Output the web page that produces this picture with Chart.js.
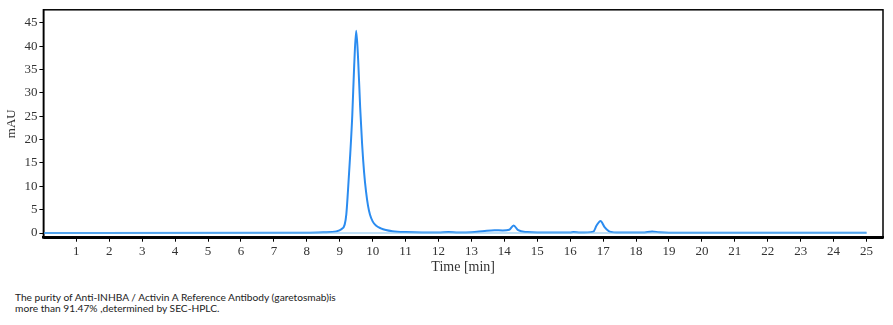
<!DOCTYPE html>
<html>
<head>
<meta charset="utf-8">
<script src="https://cdn.jsdelivr.net/npm/chart.js@4/dist/chart.umd.min.js"></script>
<style>
  html, body { margin: 0; padding: 0; background: #fff; }
  #wrap { position: relative; width: 893px; height: 280px; }
  #caption {
    position: absolute; left: 15px; top: 292px;
    font-family: Lato, sans-serif; font-size: 10.2px; line-height: 10.5px; color: #222;
  }
</style>
</head>
<body>
<div id="wrap"><canvas id="chart"></canvas></div>
<div id="caption">The purity of Anti-INHBA / Activin A Reference Antibody (garetosmab)is<br>more than 91.47% ,determined by SEC-HPLC.</div>
<script>
// chromatogram (time in min, absorbance in mAU)
const times = [0, 8.0, 8.5, 8.9, 9.05, 9.15, 9.2, 9.25, 9.32, 9.38, 9.44, 9.5, 9.56, 9.62, 9.68, 9.74, 9.8, 9.86, 9.92, 10.0, 10.1, 10.25, 10.4, 10.6, 11.0, 11.5, 12.0, 12.3, 12.6, 13.0, 13.4, 13.7, 13.95, 14.15, 14.28, 14.42, 14.7, 15.0, 16.0, 16.1, 16.3, 16.7, 16.8, 16.92, 17.05, 17.2, 17.5, 18.2, 18.49, 18.7, 19.0, 25.0];
const mau   = [0, 0.05, 0.15, 0.35, 0.8, 1.8, 4, 9, 17, 25, 36, 43.3, 37, 27, 19, 13, 8.8, 5.8, 3.9, 2.5, 1.6, 1.0, 0.65, 0.4, 0.2, 0.1, 0.1, 0.2, 0.1, 0.15, 0.45, 0.6, 0.55, 0.7, 1.6, 0.6, 0.2, 0.1, 0.1, 0.2, 0.1, 0.3, 1.6, 2.6, 1.2, 0.3, 0.1, 0.1, 0.35, 0.15, 0.05, 0.05];

// zero baseline
const baseTimes = [0, 25];
const baseValues = [0, 0];

const xTicks = [1, 2, 3, 4, 5, 6, 7, 8, 9, 10, 11, 12, 13, 14, 15, 16, 17, 18, 19, 20, 21, 22, 23, 24, 25];
const yTicks = [0, 5, 10, 15, 20, 25, 30, 35, 40, 45];

// box around the plot area
const frame = {
    id: 'frame',
    afterDraw(chart) {
        const { ctx, chartArea: a } = chart;
        ctx.save();
        ctx.strokeStyle = '#000';
        ctx.lineWidth = 1.5;
        ctx.strokeRect(a.left, a.top, a.right - a.left, a.bottom - a.top);
        ctx.lineWidth = 2.5;
        ctx.beginPath();
        ctx.moveTo(a.left, a.bottom);
        ctx.lineTo(a.right, a.bottom);
        ctx.stroke();
        ctx.restore();
    }
};

const tickFont = { family: '"Liberation Serif", serif', size: 13 };

new Chart(document.getElementById('chart').getContext('2d'), {
    type: 'line',
    data: {
        datasets: [{
            data: baseTimes.map((t, i) => ({ x: t, y: baseValues[i] })),
            borderColor: '#7fc0ee',
            borderWidth: 1,
            pointRadius: 0
        }, {
            data: times.map((t, i) => ({ x: t, y: mau[i] })),
            borderColor: '#2b8cf0',
            borderWidth: 2,
            pointRadius: 0,
            cubicInterpolationMode: 'monotone'
        }]
    },
    options: {
        responsive: true,
        maintainAspectRatio: false,
        animation: false,
        layout: { padding: { top: 9.5, right: 10, bottom: 0, left: 0 } },
        plugins: { legend: { display: false }, tooltip: { enabled: false } },
        scales: {
            x: {
                type: 'linear',
                min: 0,
                max: 25.5,
                afterBuildTicks: (scale) => { scale.ticks = xTicks.map(v => ({ value: v })); },
                afterFit: (scale) => { scale.height = 42.3; },
                grid: { drawOnChartArea: false, tickLength: 4, color: '#000' },
                border: { color: '#000', width: 2.5 },
                ticks: { font: tickFont, color: '#333', padding: 2, maxRotation: 0, autoSkip: false },
                title: { display: true, text: 'Time [min]', font: { family: '"Liberation Serif", serif', size: 14 }, color: '#333', padding: 4 }
            },
            y: {
                min: -1,
                max: 47.8,
                afterBuildTicks: (scale) => { scale.ticks = yTicks.map(v => ({ value: v })); },
                afterFit: (scale) => { scale.width = 43.4; },
                grid: { drawOnChartArea: false, tickLength: 4, color: '#000' },
                border: { color: '#000', width: 1.5 },
                ticks: { font: tickFont, color: '#333', padding: 2 },
                title: { display: true, text: 'mAU', font: { family: '"Liberation Serif", serif', size: 13 }, color: '#333', padding: 4 }
            }
        }
    },
    plugins: [frame]
});
</script>
</body>
</html>
